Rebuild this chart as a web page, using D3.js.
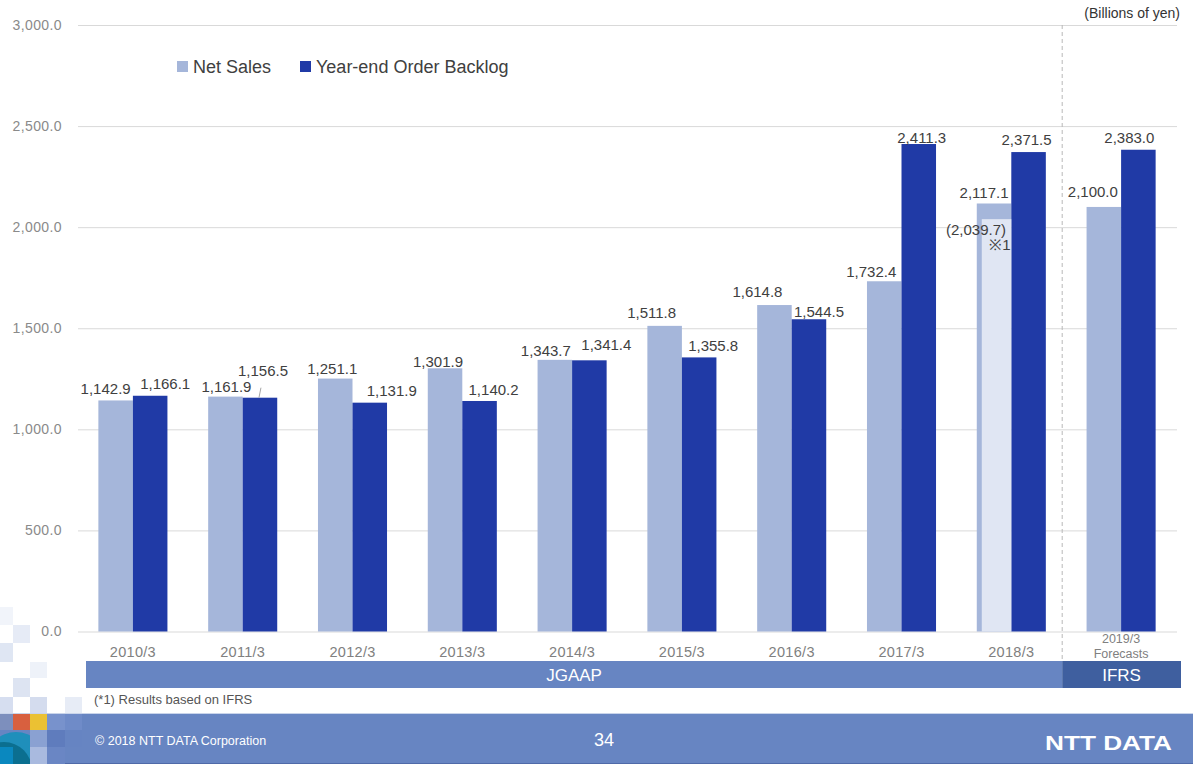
<!DOCTYPE html>
<html><head><meta charset="utf-8">
<script src="https://cdn.jsdelivr.net/npm/d3@7"></script>
<style>
body{margin:0;background:#fff;}
svg{display:block;font-family:"Liberation Sans",Arial,sans-serif;}
</style>
</head><body>
<svg id="chart" width="1193" height="764"></svg>
<script>
// ---------- data ----------
const categories = ["2010/3","2011/3","2012/3","2013/3","2014/3","2015/3","2016/3","2017/3","2018/3","2019/3"];
const netSales = [1142.9,1161.9,1251.1,1301.9,1343.7,1511.8,1614.8,1732.4,2117.1,2100.0];
const orderBacklog = [1166.1,1156.5,1131.9,1140.2,1341.4,1355.8,1544.5,2411.3,2371.5,2383.0];
const ifrsCategory = "2018/3";
const ifrsNetSales = 2039.7;           // (*1) Results based on IFRS
const yTicks = [0,500,1000,1500,2000,2500,3000];
const seriesNames = ["Net Sales","Year-end Order Backlog"];
const standardNames = ["JGAAP","IFRS"];
const forecastLabel = ["2019/3","Forecasts"];

// ---------- label placement tweaks (style, not data) ----------
const netLabelDx = [-10,1,-3,-7,-9,-13,-17,-13,-10,-11];
const netLabelDy = [-12,-10,-10,-7,-9,-13,-13,-10,-11,-15];
const blLabelDx = [15,3,22,14,17,14,10,3,-2,-9];
const blLabelDy = [-12,-27,-12,-11,-16,-12,-8,-6,-12,-12];

// ---------- colours ----------
const cLight = "#a5b6da", cDark = "#203aa6", cInner = "#e0e6f3";
const cBand = "#6785c2", cBandDark = "#3f5f9f";

const svg = d3.select("#chart");

// ---------- decorative mosaic (bottom-left) ----------
const deco = [
  [0,607,13,18,"#f1f4fa"],[13,625,17,18,"#e6ebf6"],[0,643,13,19,"#dfe6f3"],
  [30,662,17,16,"#eef2f9"],[13,678,17,19,"#dde4f2"],[0,697,13,16,"#d6def0"],
  [30,697,17,16,"#d4dcee"],[65,697,17,16,"#e7ecf6"]
];
svg.selectAll("rect.deco").data(deco).join("rect").attr("class","deco")
  .attr("x",d=>d[0]).attr("y",d=>d[1]).attr("width",d=>d[2]).attr("height",d=>d[3]).attr("fill",d=>d[4]);

// ---------- scales ----------
const y = d3.scaleLinear().domain([0,3000]).range([631.5,25]);
const x0 = d3.scaleBand().domain(categories).range([78,1176]).padding(0);
const x1 = d3.scaleBand().domain(["net","backlog"]).range([0,x0.bandwidth()]).paddingInner(0).paddingOuter(0.59);

// ---------- grid / y axis ----------
const gridRight = 1177;
const yAxis = d3.axisLeft(y).tickValues(yTicks).tickSize(-(gridRight-78)).tickPadding(16)
  .tickFormat(d3.format(",.1f"));
const gy = svg.append("g").attr("transform","translate(78,0)").call(yAxis);
gy.select(".domain").remove();
gy.selectAll(".tick line").attr("stroke","#d9d9d9").attr("stroke-width",1);
gy.selectAll(".tick text").attr("fill","#8a8a8a").attr("font-size",14)
  .attr("font-family","'Liberation Sans',Arial,sans-serif").style("letter-spacing","0.4px");

// ---------- dashed separator ----------
const sepX = x0("2019/3") - 4;
svg.append("line").attr("x1",sepX).attr("x2",sepX).attr("y1",y(3000)).attr("y2",661)
  .attr("stroke","#b8b8b8").attr("stroke-dasharray","4,3").attr("stroke-width",1);

// ---------- bars ----------
const rows = categories.map((c,i)=>({c,i,net:netSales[i],bl:orderBacklog[i]}));
const g = svg.append("g");
g.selectAll("rect.net").data(rows).join("rect").attr("class","net")
  .attr("x",d=>x0(d.c)+x1("net")).attr("width",x1.bandwidth())
  .attr("y",d=>y(d.net)).attr("height",d=>y(0)-y(d.net)).attr("fill",cLight);
g.selectAll("rect.bl").data(rows).join("rect").attr("class","bl")
  .attr("x",d=>x0(d.c)+x1("backlog")).attr("width",x1.bandwidth())
  .attr("y",d=>y(d.bl)).attr("height",d=>y(0)-y(d.bl)).attr("fill",cDark);
// IFRS-based inner bar for 2018/3
g.append("rect")
  .attr("x",x0(ifrsCategory)+x1("net")+5).attr("width",x1.bandwidth()-5)
  .attr("y",y(ifrsNetSales)).attr("height",y(0)-y(ifrsNetSales)).attr("fill",cInner);

// ---------- value labels ----------
const fmt = d3.format(",.1f");
const lab = svg.append("g").attr("font-size",15).attr("fill","#404040").attr("text-anchor","middle");
lab.selectAll("text.nl").data(rows).join("text").attr("class","nl")
  .attr("x",d=>x0(d.c)+x1("net")+x1.bandwidth()/2+netLabelDx[d.i])
  .attr("y",d=>y(d.net)+netLabelDy[d.i]).attr("dy","0.35em").text(d=>fmt(d.net));
lab.selectAll("text.bl").data(rows).join("text").attr("class","bl")
  .attr("x",d=>x0(d.c)+x1("backlog")+x1.bandwidth()/2+blLabelDx[d.i])
  .attr("y",d=>y(d.bl)+blLabelDy[d.i]).attr("dy","0.35em").text(d=>fmt(d.bl));
// leader line for 2011/3 backlog
const lx = x0("2011/3")+x1("backlog")+x1.bandwidth()/2;
svg.append("line").attr("x1",lx+1).attr("y1",y(orderBacklog[1])-10).attr("x2",lx-1).attr("y2",y(orderBacklog[1]))
  .attr("stroke","#a6a6a6").attr("stroke-width",1);
// IFRS annotation
const ix = x0(ifrsCategory)+x1("net")+x1.bandwidth()/2;
lab.append("text").attr("x",ix-18).attr("y",y(ifrsNetSales)+11).attr("dy","0.35em").text("(" + fmt(ifrsNetSales) + ")");
lab.append("text").attr("x",ix+6).attr("y",y(ifrsNetSales)+26).attr("dy","0.35em").text("※1");

// ---------- x labels ----------
const xl = svg.append("g").attr("fill","#808080").attr("text-anchor","middle");
xl.selectAll("text").data(categories.slice(0,-1)).join("text")
  .attr("x",d=>x0(d)+x0.bandwidth()/2).attr("y",657).attr("font-size",14.5).style("letter-spacing","0.3px").text(d=>d);
const fc = x0("2019/3")+x0.bandwidth()/2;
xl.append("text").attr("x",fc).attr("y",643).attr("font-size",12.5).text(forecastLabel[0]);
xl.append("text").attr("x",fc).attr("y",658).attr("font-size",12.5).text(forecastLabel[1]);

// ---------- accounting standard bands ----------
svg.append("rect").attr("x",86).attr("y",661).attr("width",sepX-86).attr("height",27).attr("fill",cBand);
svg.append("rect").attr("x",sepX).attr("y",661).attr("width",1181-sepX).attr("height",27).attr("fill",cBandDark);
svg.append("text").attr("x",(86+sepX)/2).attr("y",680.5).attr("text-anchor","middle").attr("fill","#fff")
  .attr("font-size",17).text(standardNames[0]);
svg.append("text").attr("x",(sepX+1181)/2).attr("y",680.5).attr("text-anchor","middle").attr("fill","#fff")
  .attr("font-size",17).text(standardNames[1]);

// ---------- legend ----------
const leg = svg.append("g");
leg.append("rect").attr("x",177).attr("y",61).attr("width",11).attr("height",11).attr("fill",cLight);
leg.append("text").attr("x",193).attr("y",73).attr("font-size",18).attr("fill","#404040").text(seriesNames[0]);
leg.append("rect").attr("x",300).attr("y",61).attr("width",11).attr("height",11).attr("fill",cDark);
leg.append("text").attr("x",316).attr("y",73).attr("font-size",18).attr("fill","#404040").text(seriesNames[1]);

// ---------- unit ----------
svg.append("text").attr("x",1180).attr("y",18).attr("text-anchor","end").attr("font-size",14)
  .attr("fill","#333").text("(Billions of yen)");

// ---------- footnote ----------
svg.append("text").attr("x",94).attr("y",704).attr("font-size",13).attr("fill","#555")
  .text("(*1) Results based on IFRS");

// ---------- footer ----------
svg.append("rect").attr("x",0).attr("y",713).attr("width",1193).attr("height",51).attr("fill",cBand);
svg.append("line").attr("x1",0).attr("x2",1193).attr("y1",713.5).attr("y2",713.5).attr("stroke","#c9d4ea").attr("stroke-width",1);
svg.append("line").attr("x1",0).attr("x2",1193).attr("y1",763.5).attr("y2",763.5).attr("stroke","#4f6aa8").attr("stroke-width",1);
const footDeco = [
  [0,714,13,16,"#7d8fbd"],[13,714,17,16,"#d8603f"],[30,714,17,16,"#ebc133"],[47,714,18,16,"#7892cc"],[65,714,17,16,"#6f8bc8"],
  [30,730,17,17,"#8aa1d2"],[47,730,18,17,"#5f7cbd"],[65,730,17,17,"#6684c2"],
  [13,747,17,17,"#5b80c4"],[30,747,17,17,"#a9badf"],[47,747,18,17,"#6a86c4"]
];
svg.selectAll("rect.fdeco").data(footDeco).join("rect").attr("class","fdeco")
  .attr("x",d=>d[0]).attr("y",d=>d[1]).attr("width",d=>d[2]).attr("height",d=>d[3]).attr("fill",d=>d[4]);
svg.append("clipPath").attr("id","fclip").append("rect").attr("x",0).attr("y",730).attr("width",30).attr("height",34);
svg.append("circle").attr("cx",16).attr("cy",762).attr("r",30).attr("fill","#1f8fbb").attr("clip-path","url(#fclip)");
svg.append("circle").attr("cx",4).attr("cy",770).attr("r",28).attr("fill","#0b6f90").attr("clip-path","url(#fclip)");
svg.append("rect").attr("x",0).attr("y",747).attr("width",13).attr("height",17).attr("fill","#0a88bf");

svg.append("text").attr("x",95).attr("y",745).attr("font-size",12.5).attr("fill","#fff")
  .text("© 2018 NTT DATA Corporation");
svg.append("text").attr("x",604).attr("y",746).attr("text-anchor","middle").attr("font-size",18).attr("fill","#fff")
  .text("34");
svg.append("text").attr("x",1045).attr("y",750).attr("font-size",21).attr("font-weight","bold").attr("fill","#fff")
  .attr("textLength",127).attr("lengthAdjust","spacingAndGlyphs").text("NTT DATA");
</script>
</body></html>
